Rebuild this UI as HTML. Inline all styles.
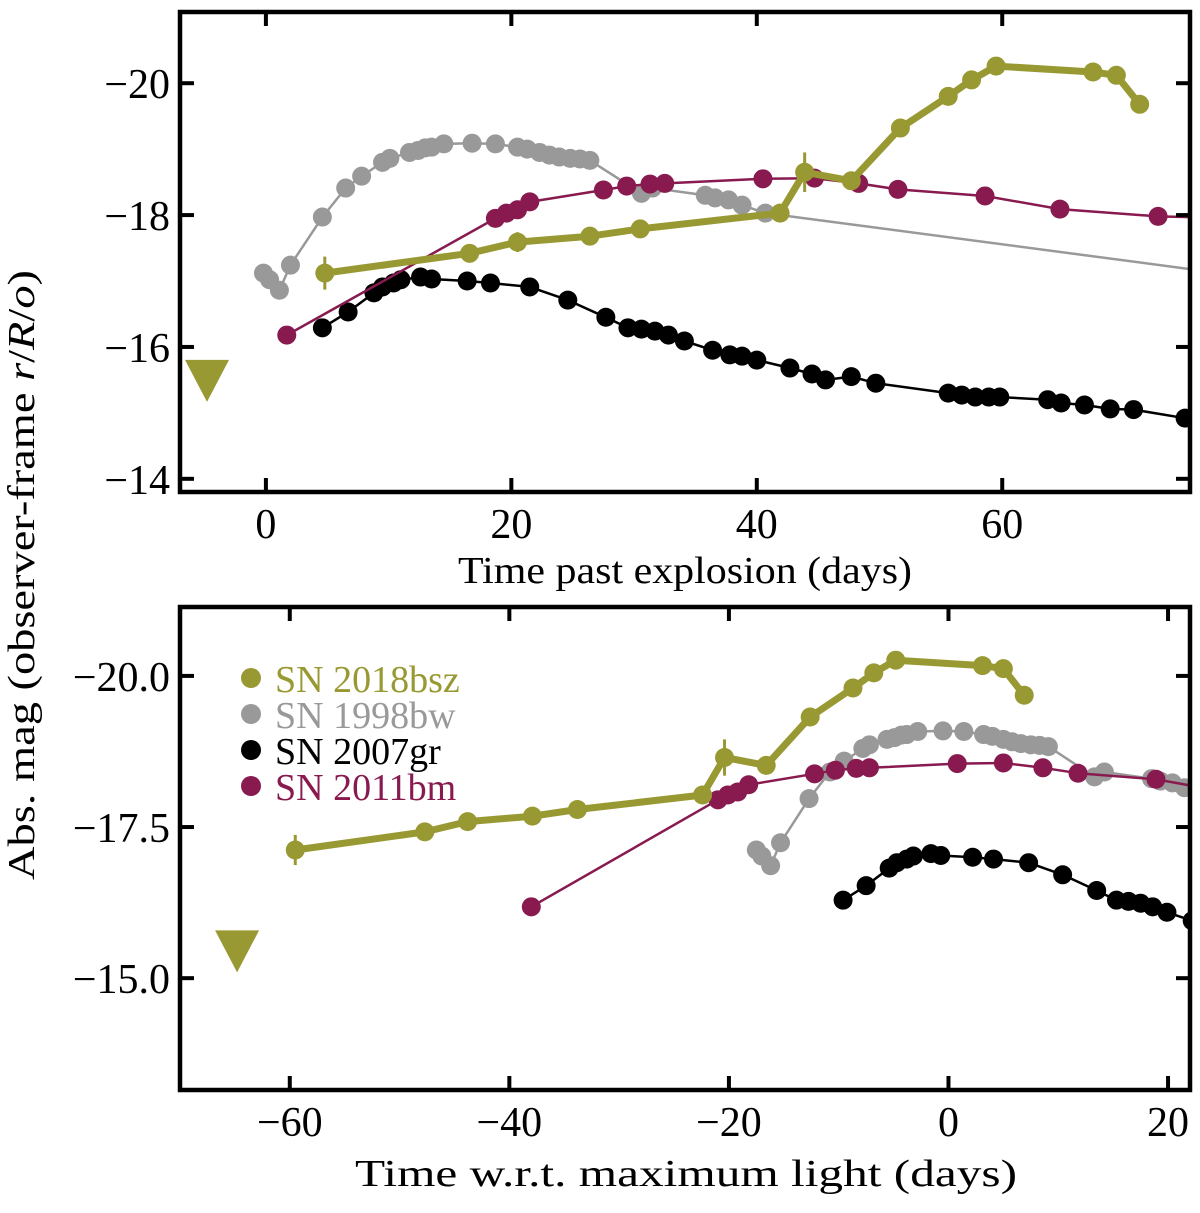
<!DOCTYPE html>
<html><head><meta charset="utf-8"><style>
html,body{margin:0;padding:0;background:#fff;}
svg{display:block;font-family:"Liberation Serif",serif;}
</style></head><body>
<svg id="fig" width="1200" height="1213" viewBox="0 0 1200 1213" xmlns="http://www.w3.org/2000/svg">
<defs>
<clipPath id="clipTop"><rect x="180" y="12" width="1010" height="480"/></clipPath>
<clipPath id="clipBot"><rect x="180" y="607" width="1010" height="483"/></clipPath>
</defs>
<g id="topPanel"></g>
<g id="botPanel"></g>
<text x="34" y="575" font-size="38" text-anchor="middle" textLength="610" lengthAdjust="spacingAndGlyphs" transform="rotate(-90 34 575)">Abs. mag (observer-frame <tspan font-style="italic">r</tspan>/<tspan font-style="italic">R</tspan>/<tspan font-style="italic">o</tspan>)</text>
<text x="685" y="583" font-size="38" text-anchor="middle" textLength="454" lengthAdjust="spacingAndGlyphs">Time past explosion (days)</text>
<text x="686" y="1186" font-size="38" text-anchor="middle" textLength="662" lengthAdjust="spacingAndGlyphs">Time w.r.t. maximum light (days)</text>
</svg>
<script>
// ---- data (time past explosion, days; absolute magnitude) ----
const bszDays = [4.8,16.6,20.5,26.4,30.5,41.9,43.9,47.7,51.7,55.6,57.5,59.5,67.4,69.3,71.2];
const bszMags = [-17.12,-17.42,-17.59,-17.68,-17.79,-18.03,-18.65,-18.52,-19.32,-19.80,-20.05,-20.26,-20.17,-20.12,-19.68];
const bszErrs = [0.25,0,0.15,0,0,0,0.3,0,0,0,0,0,0,0,0];
const bwDays = [-0.2,0.3,1.1,2.0,4.6,6.5,7.8,9.5,10.1,11.7,12.4,13.0,13.5,14.5,16.8,18.7,20.5,21.3,22.3,23.1,23.9,24.8,25.6,26.4,30.6,31.5,35.8,36.6,37.7,38.8,40.7];
const bwMags = [-17.12,-17.02,-16.86,-17.24,-17.97,-18.41,-18.59,-18.80,-18.86,-18.95,-18.98,-19.02,-19.03,-19.08,-19.09,-19.08,-19.03,-19.0,-18.95,-18.91,-18.88,-18.86,-18.85,-18.83,-18.33,-18.41,-18.30,-18.26,-18.23,-18.15,-18.03];
const bwTailDays = [40.7,75.3];
const bwTailMags = [-18.03,-17.18];
const grDays = [4.6,6.7,8.8,9.5,10.4,11.0,12.6,13.5,16.4,18.3,21.5,24.6,27.7,29.5,30.6,31.7,32.8,34.1,36.4,37.8,38.8,40.0,42.7,44.5,45.6,47.7,49.7,55.6,56.7,57.8,58.9,59.8,63.7,64.8,66.7,68.8,70.7,74.9];
const grMags = [-16.29,-16.53,-16.82,-16.91,-16.97,-17.02,-17.06,-17.03,-17.0,-16.97,-16.91,-16.71,-16.45,-16.29,-16.27,-16.24,-16.18,-16.09,-15.95,-15.88,-15.86,-15.80,-15.68,-15.59,-15.50,-15.55,-15.45,-15.30,-15.27,-15.24,-15.24,-15.24,-15.20,-15.15,-15.12,-15.06,-15.05,-14.92];
const bmDays = [1.7,18.7,19.6,20.5,21.5,27.5,29.4,31.3,32.5,40.5,44.7,48.3,51.5,58.6,64.7,72.7];
const bmMags = [-16.18,-17.95,-18.03,-18.08,-18.20,-18.38,-18.44,-18.47,-18.48,-18.55,-18.56,-18.48,-18.39,-18.29,-18.09,-17.98];
// shift from explosion to maximum light (days)
const maxShift = {bsz:64.3, bw:17.3, gr:14.2, bm:39.7};
const limitTop = {day:-4.8, mag:-15.5};
const limitBot = {day:-64.8, mag:-15.46};
const topXTicks = [0,20,40,60];
const topYTicks = [-20,-18,-16,-14];
const botXTicks = [-60,-40,-20,0,20];
const botYTicks = [-20.0,-17.5,-15.0];
const botYLabels = ["\u221220.0","\u221217.5","\u221215.0"];

const NS="http://www.w3.org/2000/svg";
const C={bsz:"#999933",bw:"#999999",gr:"#000000",bm:"#881a50"};
function mk(tag,attrs,parent){const e=document.createElementNS(NS,tag);for(const k in attrs)e.setAttribute(k,attrs[k]);parent.appendChild(e);return e;}

function panel(root,box,xr,yr,xt,yt,ytl,shiftOn,clip,lim,pfx){
  const sx=d=>box.x+(d-xr[0])/(xr[1]-xr[0])*box.w;
  const sy=m=>box.y+(m-yr[0])/(yr[1]-yr[0])*box.h;
  const g=mk('g',{'clip-path':'url(#'+clip+')'},root);
  const sh=k=>shiftOn?maxShift[k]:0;
  function series(key,days,mags,lw,name){
    const pts=days.map((d,i)=>sx(d-sh(key)).toFixed(1)+','+sy(mags[i]).toFixed(1)).join(' ');
    const pl=mk('polyline',{points:pts,fill:'none',stroke:C[key],'stroke-width':lw,'stroke-linejoin':'round'},g);
    
    
  }
  function dots(key,days,mags,name,errs){
    days.forEach((d,i)=>{
      const cx=sx(d-sh(key)),cy=sy(mags[i]);
      if(errs&&errs[i]>0){
        const el=mk('line',{x1:cx,x2:cx,y1:sy(mags[i]-errs[i]),y2:sy(mags[i]+errs[i]),stroke:C[key],'stroke-width':3},g);
        
        
      }
      const c=mk('circle',{cx:cx,cy:cy,r:9.5,fill:C[key]},g);
      
      
    });
  }
  series('bw',bwDays,bwMags,2.5,'sn1998bw');
  series('bw',bwTailDays,bwTailMags,2.5,'sn1998bw-tail');
  dots('bw',bwDays,bwMags,'sn1998bw');
  series('gr',grDays.concat([80]),grMags.concat([-14.8]),2.5,'sn2007gr');
  dots('gr',grDays,grMags,'sn2007gr');
  series('bm',bmDays.concat([80]),bmMags.concat([-17.95]),2.5,'sn2011bm');
  dots('bm',bmDays,bmMags,'sn2011bm');
  series('bsz',bszDays,bszMags,7,'sn2018bsz');
  dots('bsz',bszDays,bszMags,'sn2018bsz',bszErrs);
  const tx=sx(lim.day),ty=sy(lim.mag);
  const tri=mk('polygon',{points:`${tx-22},${ty-20} ${tx+22},${ty-20} ${tx},${ty+22}`,fill:C.bsz},g);
  
  
  xt.forEach(v=>{
    const x=sx(v);
    mk('line',{x1:x,x2:x,y1:box.y+box.h,y2:box.y+box.h-14,stroke:'#000','stroke-width':4},root);
    mk('line',{x1:x,x2:x,y1:box.y,y2:box.y+14,stroke:'#000','stroke-width':4},root);
    const t=mk('text',{x:x,y:box.y+box.h+46,'font-size':42,'text-anchor':'middle'},root);
    t.textContent=v<0?'\u2212'+(-v):String(v);
    
    
  });
  yt.forEach((v,i)=>{
    const y=sy(v);
    mk('line',{x1:box.x,x2:box.x+14,y1:y,y2:y,stroke:'#000','stroke-width':4},root);
    mk('line',{x1:box.x+box.w,x2:box.x+box.w-14,y1:y,y2:y,stroke:'#000','stroke-width':4},root);
    const t=mk('text',{x:box.x-10,y:y+15,'font-size':42,'text-anchor':'end'},root);
    t.textContent=ytl?ytl[i]:'\u2212'+(-v);
    
    
  });
  const fr=mk('rect',{x:box.x,y:box.y,width:box.w,height:box.h,fill:'none',stroke:'#000','stroke-width':4.5},root);
  
  
}
const topG=document.getElementById('topPanel'),botG=document.getElementById('botPanel');
panel(topG,{x:180,y:12,w:1010,h:480},[-7.0,75.3],[-21.08,-13.8],topXTicks,topYTicks,null,false,'clipTop',limitTop,'top-');
panel(botG,{x:180,y:607,w:1010,h:483},[-70.0,22.0],[-21.14,-13.15],botXTicks,botYTicks,botYLabels,true,'clipBot',limitBot,'bottom-');
const legItems=[['bsz','SN 2018bsz'],['bw','SN 1998bw'],['gr','SN 2007gr'],['bm','SN 2011bm']];
const leg=mk('g',{},botG);


legItems.forEach((it,i)=>{
  const y=678+i*36;
  const c=mk('circle',{cx:251,cy:y,r:10,fill:C[it[0]]},leg);
  
  
  const t=mk('text',{x:275,y:y+14,'font-size':38,fill:C[it[0]]},leg);
  t.textContent=it[1];
  
  
});
</script>
</body></html>
